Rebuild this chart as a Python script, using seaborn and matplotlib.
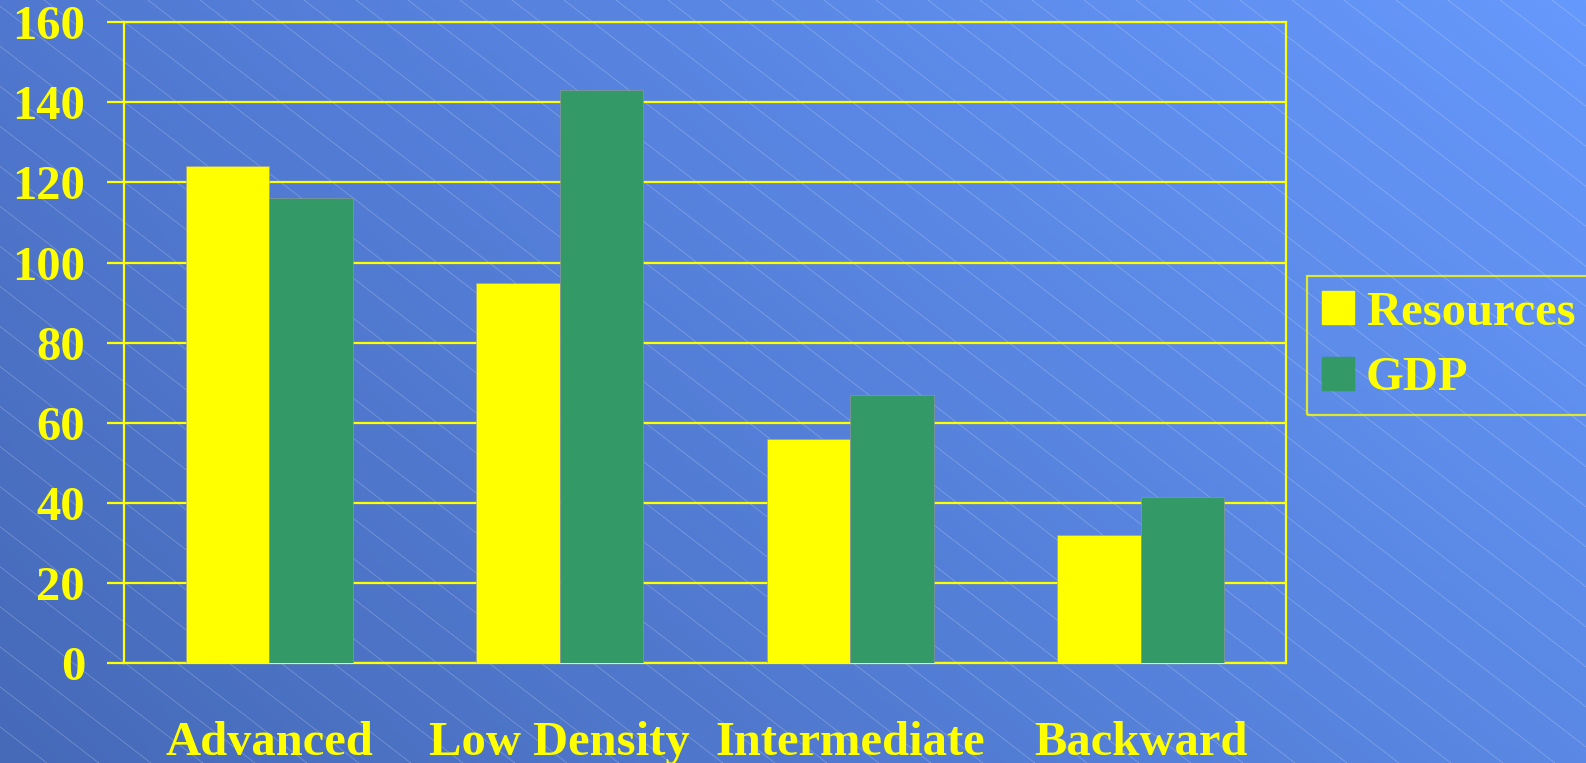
import numpy as np
import pandas as pd
import matplotlib
matplotlib.use("Agg")
import matplotlib.pyplot as plt
from matplotlib.collections import LineCollection
from matplotlib.colors import to_rgb
import seaborn as sns

categories = ["Advanced", "Low Density", "Intermediate", "Backward"]
resources = [124, 95, 56, 32]
gdp = [116, 143, 67, 41.5]
series = ["Resources", "GDP"]
colors = {"Resources": "#FFFF00", "GDP": "#339966"}
yticks = [0, 20, 40, 60, 80, 100, 120, 140, 160]

df = pd.DataFrame({
    "Region": categories * 2,
    "Series": [series[0]] * len(categories) + [series[1]] * len(categories),
    "Value": resources + gdp,
})

sns.set_style("white")
plt.rcParams["font.family"] = ["Liberation Serif", "DejaVu Serif"]
plt.rcParams["font.weight"] = "bold"
YEL = "#FFFF00"
W, H = 1586, 763
fig = plt.figure(figsize=(W / 100, H / 100), dpi=100)

# background: blue gradient (4 corners) + thin diagonal hatch lines
bg = fig.add_axes([0, 0, 1, 1], zorder=-5)
tl, tr, bl, br = [np.array(to_rgb(c)) for c in ("#5078d0", "#6699fc", "#466ab8", "#5a88e4")]
u = np.linspace(0, 1, 320)[None, :, None]
v = np.linspace(0, 1, 160)[:, None, None]  # 0 = bottom
img = (bl * (1 - u) + br * u) * (1 - v) + (tl * (1 - u) + tr * u) * v
bg.imshow(img, origin="lower", extent=[0, W, 0, H], aspect="auto")
slope = 0.77
segs = [[(x0, H), (x0 + H / slope, 0)] for x0 in np.arange(-1100, W + 100, 52)]
bg.add_collection(LineCollection(segs, colors="white", linewidths=0.5, alpha=0.28))
bg.set_xlim(0, W); bg.set_ylim(0, H); bg.axis("off")

ax = fig.add_axes([124 / W, 1 - 663 / H, (1286 - 124) / W, (663 - 22.3) / H])
ax.set_facecolor("none")
sns.barplot(data=df, x="Region", y="Value", hue="Series", palette=colors,
            width=0.575, saturation=1, ax=ax, legend=False, zorder=3,
            edgecolor="#9a9a9a", linewidth=0.4)

ax.set_ylim(0, 160)
ax.set_xlim(-0.5, 3.5)
ax.set_yticks(yticks)
ax.yaxis.grid(True, color=YEL, linewidth=1.6, zorder=1)
ax.set_axisbelow(True)
for s in ax.spines.values():
    s.set_color(YEL); s.set_linewidth(1.6)
ax.set_xticks([-0.5, 0.5, 1.5, 2.5, 3.5], minor=True)
ax.tick_params(axis="x", which="major", length=0, pad=42, labelsize=35, labelcolor=YEL)
ax.tick_params(axis="x", which="minor", length=12, width=1.6, color=YEL, direction="out")
ax.tick_params(axis="y", length=12, width=1.6, color=YEL, pad=16, labelsize=35, labelcolor=YEL, left=True)
for t in ax.get_xticklabels() + ax.get_yticklabels():
    t.set_fontweight("bold")
ax.set_xlabel(""); ax.set_ylabel("")

handles = [plt.Rectangle((0, 0), 1, 1, color=colors[s]) for s in series]
leg = fig.legend(handles, series, loc="upper left", bbox_to_anchor=(1307 / W, 1 - 276 / H),
                 borderaxespad=0, frameon=True, fancybox=False,
                 handlelength=0.66, handleheight=0.66, handletextpad=0.25,
                 borderpad=0.3, labelspacing=0.45,
                 prop={"family": "Liberation Serif", "weight": "bold", "size": 35})
leg.get_frame().set_edgecolor(YEL)
leg.get_frame().set_facecolor("none")
leg.get_frame().set_linewidth(1.6)
for t in leg.get_texts():
    t.set_color(YEL)

fig.savefig("out.png", dpi=100)
